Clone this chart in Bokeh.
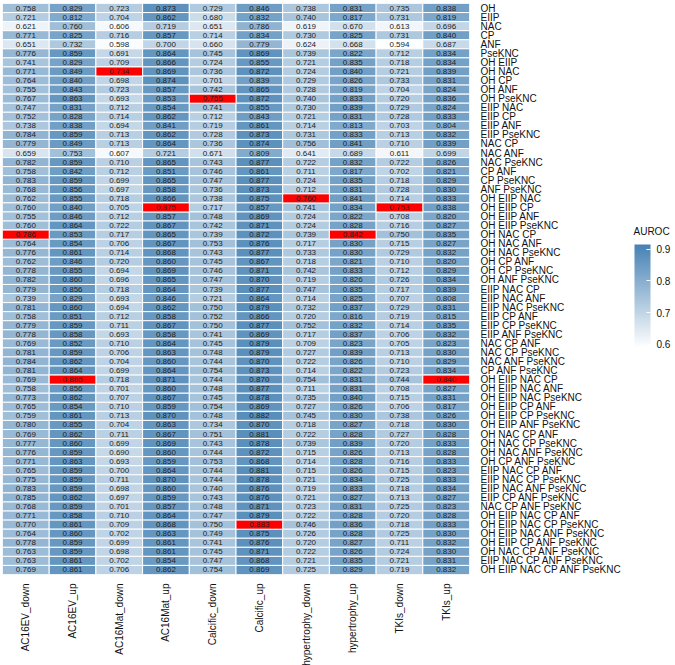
import numpy as np
from bokeh.plotting import figure
from bokeh.layouts import row
from bokeh.models import ColumnDataSource, LinearColorMapper, ColorBar, FixedTicker, Label
from bokeh.transform import transform
from bokeh.embed import file_html
from bokeh.resources import INLINE
from bokeh.core.properties import value

columns = ["AC16EV_down", "AC16EV_up", "AC16Mat_down", "AC16Mat_up", "Calcific_down",
           "Calcific_up", "hypertrophy_down", "hypertrophy_up", "TKIs_down", "TKIs_up"]

rows = ["OH", "EIIP", "NAC", "CP", "ANF", "PseKNC",
        "OH EIIP", "OH NAC", "OH CP", "OH ANF", "OH PseKNC", "EIIP NAC", "EIIP CP", "EIIP ANF",
        "EIIP PseKNC", "NAC CP", "NAC ANF", "NAC PseKNC", "CP ANF", "CP PseKNC", "ANF PseKNC",
        "OH EIIP NAC", "OH EIIP CP", "OH EIIP ANF", "OH EIIP PseKNC", "OH NAC CP", "OH NAC ANF",
        "OH NAC PseKNC", "OH CP ANF", "OH CP PseKNC", "OH ANF PseKNC", "EIIP NAC CP", "EIIP NAC ANF",
        "EIIP NAC PseKNC", "EIIP CP ANF", "EIIP CP PseKNC", "EIIP ANF PseKNC", "NAC CP ANF",
        "NAC CP PseKNC", "NAC ANF PseKNC", "CP ANF PseKNC",
        "OH EIIP NAC CP", "OH EIIP NAC ANF", "OH EIIP NAC PseKNC", "OH EIIP CP ANF",
        "OH EIIP CP PseKNC", "OH EIIP ANF PseKNC", "OH NAC CP ANF", "OH NAC CP PseKNC",
        "OH NAC ANF PseKNC", "OH CP ANF PseKNC", "EIIP NAC CP ANF", "EIIP NAC CP PseKNC",
        "EIIP NAC ANF PseKNC", "EIIP CP ANF PseKNC", "NAC CP ANF PseKNC",
        "OH EIIP NAC CP ANF", "OH EIIP NAC CP PseKNC", "OH EIIP NAC ANF PseKNC",
        "OH EIIP CP ANF PseKNC", "OH NAC CP ANF PseKNC", "EIIP NAC CP ANF PseKNC",
        "OH EIIP NAC CP ANF PseKNC"]

AC16EV_down = [0.758, 0.721, 0.621, 0.771, 0.651, 0.776, 0.741, 0.771, 0.764, 0.755,
               0.767, 0.747, 0.752, 0.738, 0.784, 0.779, 0.659, 0.782, 0.758,
               0.783, 0.768, 0.762, 0.760, 0.755, 0.760, 0.786, 0.764, 0.776, 0.762,
               0.778, 0.782, 0.779, 0.739, 0.781, 0.758, 0.779, 0.778, 0.769, 0.781,
               0.784, 0.781, 0.769, 0.758, 0.773, 0.765, 0.759, 0.780, 0.769,
               0.777, 0.776, 0.771, 0.765, 0.775, 0.783, 0.785, 0.768, 0.771, 0.770,
               0.764, 0.778, 0.763, 0.763, 0.769]
AC16EV_up = [0.829, 0.812, 0.760, 0.825, 0.732, 0.859, 0.829, 0.849, 0.840, 0.843,
             0.863, 0.831, 0.828, 0.838, 0.859, 0.849, 0.753, 0.859, 0.842,
             0.859, 0.856, 0.855, 0.840, 0.846, 0.864, 0.853, 0.854, 0.861, 0.846,
             0.855, 0.860, 0.856, 0.829, 0.860, 0.851, 0.859, 0.858, 0.852, 0.859,
             0.862, 0.864, 0.865, 0.856, 0.862, 0.854, 0.861, 0.855, 0.862,
             0.860, 0.859, 0.863, 0.859, 0.859, 0.859, 0.862, 0.859, 0.858, 0.861,
             0.860, 0.859, 0.859, 0.861, 0.861]
AC16Mat_down = [0.723, 0.704, 0.606, 0.716, 0.598, 0.691, 0.709, 0.734, 0.698, 0.723,
                0.693, 0.712, 0.714, 0.694, 0.713, 0.713, 0.607, 0.710, 0.712,
                0.699, 0.697, 0.718, 0.705, 0.712, 0.722, 0.717, 0.706, 0.714, 0.720,
                0.694, 0.696, 0.718, 0.693, 0.694, 0.712, 0.711, 0.693, 0.710, 0.706,
                0.704, 0.699, 0.718, 0.701, 0.707, 0.710, 0.713, 0.704, 0.711,
                0.699, 0.690, 0.693, 0.700, 0.711, 0.698, 0.697, 0.701, 0.710, 0.709,
                0.702, 0.699, 0.698, 0.702, 0.706]
AC16Mat_up = [0.873, 0.862, 0.719, 0.857, 0.700, 0.864, 0.866, 0.869, 0.874, 0.857,
              0.853, 0.854, 0.862, 0.841, 0.862, 0.864, 0.721, 0.865, 0.851,
              0.865, 0.858, 0.866, 0.875, 0.857, 0.867, 0.865, 0.867, 0.868, 0.860,
              0.869, 0.865, 0.864, 0.846, 0.862, 0.858, 0.867, 0.858, 0.864, 0.863,
              0.860, 0.864, 0.871, 0.860, 0.867, 0.859, 0.870, 0.863, 0.867,
              0.869, 0.860, 0.859, 0.864, 0.870, 0.860, 0.859, 0.857, 0.864, 0.868,
              0.863, 0.861, 0.861, 0.854, 0.862]
Calcific_down = [0.729, 0.680, 0.651, 0.714, 0.660, 0.745, 0.724, 0.736, 0.701, 0.742,
                 0.755, 0.741, 0.712, 0.719, 0.728, 0.736, 0.671, 0.743, 0.746,
                 0.747, 0.736, 0.738, 0.717, 0.748, 0.742, 0.739, 0.753, 0.743, 0.745,
                 0.746, 0.747, 0.739, 0.721, 0.750, 0.752, 0.750, 0.741, 0.745, 0.748,
                 0.744, 0.754, 0.744, 0.748, 0.745, 0.754, 0.748, 0.734, 0.751,
                 0.743, 0.744, 0.753, 0.744, 0.744, 0.740, 0.743, 0.748, 0.747, 0.750,
                 0.749, 0.741, 0.745, 0.747, 0.754]
Calcific_up = [0.846, 0.832, 0.786, 0.834, 0.779, 0.869, 0.855, 0.872, 0.839, 0.865,
               0.872, 0.855, 0.843, 0.861, 0.873, 0.874, 0.809, 0.877, 0.861,
               0.877, 0.873, 0.875, 0.857, 0.869, 0.871, 0.872, 0.876, 0.877, 0.867,
               0.871, 0.870, 0.877, 0.864, 0.879, 0.866, 0.877, 0.869, 0.879, 0.879,
               0.870, 0.873, 0.870, 0.877, 0.878, 0.869, 0.882, 0.870, 0.881,
               0.878, 0.872, 0.868, 0.881, 0.878, 0.876, 0.876, 0.871, 0.879, 0.883,
               0.875, 0.876, 0.871, 0.868, 0.869]
hypertrophy_down = [0.738, 0.740, 0.619, 0.730, 0.624, 0.739, 0.721, 0.724, 0.729, 0.728,
                    0.740, 0.730, 0.721, 0.714, 0.731, 0.756, 0.641, 0.722, 0.711,
                    0.724, 0.712, 0.760, 0.741, 0.724, 0.724, 0.739, 0.717, 0.733, 0.718,
                    0.742, 0.719, 0.747, 0.714, 0.732, 0.720, 0.752, 0.717, 0.709, 0.727,
                    0.722, 0.714, 0.754, 0.711, 0.735, 0.727, 0.745, 0.718, 0.722,
                    0.739, 0.715, 0.714, 0.715, 0.721, 0.719, 0.721, 0.723, 0.722, 0.746,
                    0.726, 0.720, 0.722, 0.721, 0.725]
hypertrophy_up = [0.831, 0.817, 0.670, 0.825, 0.668, 0.822, 0.835, 0.840, 0.826, 0.819,
                  0.833, 0.839, 0.831, 0.813, 0.833, 0.841, 0.689, 0.832, 0.817,
                  0.835, 0.831, 0.841, 0.834, 0.822, 0.828, 0.842, 0.830, 0.830, 0.821,
                  0.833, 0.826, 0.835, 0.825, 0.837, 0.816, 0.832, 0.837, 0.823, 0.839,
                  0.826, 0.822, 0.831, 0.831, 0.840, 0.826, 0.830, 0.827, 0.828,
                  0.839, 0.826, 0.828, 0.826, 0.834, 0.833, 0.827, 0.831, 0.828, 0.836,
                  0.828, 0.827, 0.826, 0.835, 0.829]
TKIs_down = [0.735, 0.731, 0.613, 0.731, 0.594, 0.712, 0.718, 0.721, 0.733, 0.704,
             0.720, 0.729, 0.728, 0.703, 0.713, 0.710, 0.611, 0.722, 0.702,
             0.718, 0.728, 0.714, 0.753, 0.708, 0.716, 0.750, 0.715, 0.729, 0.710,
             0.712, 0.726, 0.717, 0.707, 0.729, 0.719, 0.714, 0.706, 0.705, 0.713,
             0.710, 0.723, 0.744, 0.708, 0.715, 0.706, 0.738, 0.718, 0.727,
             0.720, 0.713, 0.716, 0.715, 0.725, 0.718, 0.713, 0.725, 0.720, 0.718,
             0.725, 0.711, 0.724, 0.721, 0.719]
TKIs_up = [0.838, 0.819, 0.696, 0.840, 0.687, 0.834, 0.834, 0.839, 0.831, 0.824,
           0.836, 0.824, 0.833, 0.804, 0.832, 0.839, 0.699, 0.826, 0.821,
           0.829, 0.830, 0.833, 0.838, 0.820, 0.827, 0.835, 0.827, 0.832, 0.820,
           0.829, 0.834, 0.839, 0.808, 0.831, 0.815, 0.835, 0.832, 0.823, 0.830,
           0.829, 0.834, 0.840, 0.827, 0.831, 0.817, 0.826, 0.830, 0.828,
           0.833, 0.828, 0.833, 0.823, 0.833, 0.834, 0.827, 0.823, 0.828, 0.833,
           0.830, 0.832, 0.830, 0.831, 0.832]

# best (highlighted in red) combination per column
best_rows = ["OH NAC CP", "OH EIIP NAC CP", "OH NAC", "OH EIIP CP", "OH PseKNC",
             "OH EIIP NAC CP PseKNC", "OH EIIP NAC", "OH NAC CP", "OH EIIP CP", "OH EIIP NAC CP"]

colorbar_ticks = [0.6, 0.7, 0.8, 0.9]

series = [AC16EV_down, AC16EV_up, AC16Mat_down, AC16Mat_up, Calcific_down,
          Calcific_up, hypertrophy_down, hypertrophy_up, TKIs_down, TKIs_up]

xs, ys, vs, labels = [], [], [], []
for c, vals in zip(columns, series):
    for r, v in zip(rows, vals):
        xs.append(c); ys.append(r); vs.append(v); labels.append("%.3f" % v)
src = ColumnDataSource(dict(x=xs, y=ys, v=vs, label=labels))

bx, by = [], []
for c, r in zip(columns, best_rows):
    bx.append(c); by.append(r)
best_src = ColumnDataSource(dict(x=bx, y=by))

# white -> steelblue ramp
lo, hi = (255, 255, 255), (70, 130, 180)
palette = []
for t in np.linspace(0, 1, 256):
    palette.append("#%02x%02x%02x" % tuple(int(round(a + (b - a) * t)) for a, b in zip(lo, hi)))
mapper = LinearColorMapper(palette=palette, low=0.59, high=0.915)

FONT = "Liberation Sans"

p = figure(frame_width=467, frame_height=571,
           x_range=columns, y_range=list(reversed(rows)),
           y_axis_location="right", toolbar_location=None, output_backend="svg",
           min_border_left=2, min_border_top=3, min_border_right=156, min_border_bottom=88)

p.rect(x="x", y="y", width=1, height=1, source=src,
       fill_color=transform("v", mapper), line_color="white", line_width=1)
p.rect(x="x", y="y", width=1, height=1, source=best_src,
       fill_color="#ff0000", line_color="white", line_width=1)
p.text(x="x", y="y", text="label", source=src, text_align="center", text_baseline="middle",
       text_font_size="8px", text_font=value(FONT), text_color="#222222")

p.grid.visible = False
p.outline_line_color = None
for ax in (p.xaxis, p.yaxis):
    ax.axis_line_color = None
    ax.major_tick_line_color = None
    ax.minor_tick_line_color = None
    ax.major_label_text_font = FONT
    ax.major_label_text_font_size = "10px"
    ax.major_label_text_color = "#111111"
p.yaxis.major_label_standoff = 5
p.xaxis.major_label_standoff = 3
p.xaxis.major_label_orientation = np.pi / 2
p.x_range.range_padding = 0
p.y_range.range_padding = 0

# legend panel
p2 = figure(width=50, height=665, toolbar_location=None, output_backend="svg",
            min_border=0, x_axis_type=None, y_axis_type=None)
p2.grid.visible = False
p2.outline_line_color = None

cb = ColorBar(color_mapper=mapper, ticker=FixedTicker(ticks=colorbar_ticks),
              orientation="vertical", width=16, height=103, title=None,
              major_label_text_font=FONT, major_label_text_font_size="10px",
              major_label_text_color="#111111",
              label_standoff=6, major_tick_line_color="white", major_tick_in=4, major_tick_out=0,
              bar_line_color=None, border_line_color=None, background_fill_color=None,
              location=(9, 224), margin=0, padding=0)
p2.add_layout(cb, "center")

cb_title = Label(x=8, y=335, x_units="screen", y_units="screen", text="AUROC",
                 text_font=FONT, text_font_size="10px", text_color="#111111",
                 text_baseline="bottom", text_align="left")
p2.add_layout(cb_title, "center")

layout = row(p, p2, spacing=0)
open("out.html", "w").write(file_html(layout, INLINE))
